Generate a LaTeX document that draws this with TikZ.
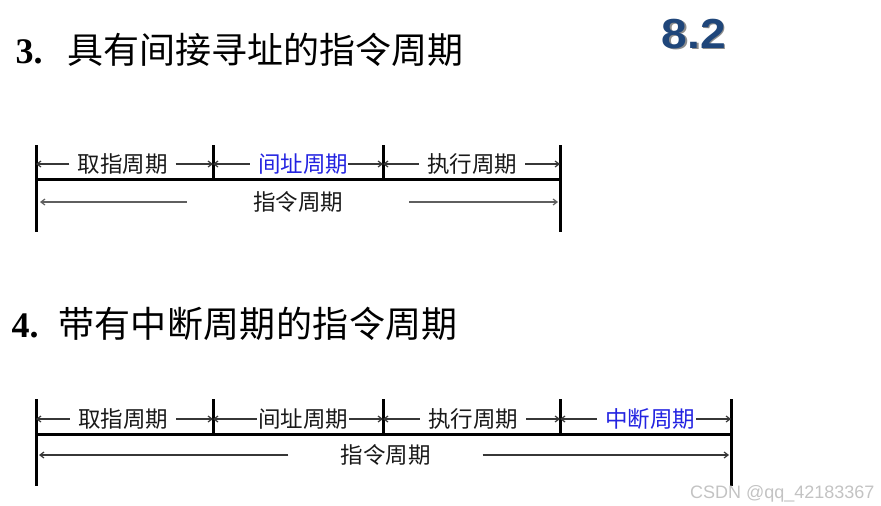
\documentclass[tikz,border=0pt]{standalone}
\usepackage{fontspec}
\setmainfont{Liberation Serif}
\newfontfamily\cjk{Noto Sans CJK SC}
\newfontfamily\cjkwide[LetterSpace=1]{Noto Sans CJK SC}
\newfontfamily\numfont{Liberation Sans}
\definecolor{ink}{RGB}{25,25,25}
\definecolor{linkblue}{RGB}{35,35,225}
\definecolor{secnavy}{RGB}{31,70,122}
\definecolor{markgray}{RGB}{195,195,195}
\definecolor{dimgray}{RGB}{55,55,55}
\definecolor{totalgray}{RGB}{95,95,95}
\usepackage{tikz}
\usetikzlibrary{arrows.meta}

\begin{document}
\begin{tikzpicture}[x=1pt, y=-1pt,
  >={Straight Barb[length=4pt, width=6pt]},
  tick/.style={
    line width=3pt, black,
  },
  baseline/.style={
    line width=3pt, black,
  },
  span/.style={
    font=\cjk\fontsize{22.5}{24}\selectfont, text=ink,
    inner xsep=0pt, inner ysep=0pt,
  },
  spanarr/.style={
    ->, line width=1.2pt, color=dimgray, shorten <=8pt,
  },
  totalarr/.style={
    ->, line width=1.2pt, color=totalgray,
  },
  heading/.style={
    anchor=base west, text=black,
  },
]
\useasboundingbox (0,0) rectangle (881,506);

% --- Headings ---
\node[heading, font=\bfseries\fontsize{36}{36}\selectfont] (h3num) at (12,63) {3.};
\node[heading, font=\cjk\fontsize{36}{36}\selectfont, inner xsep=0pt] (h3) at (67,63) {具有间接寻址的指令周期};
\node[heading, font=\bfseries\fontsize{36}{36}\selectfont] (h4num) at (8,337) {4.};
\node[heading, font=\cjkwide\fontsize{36}{36}\selectfont, inner xsep=0pt] (h4) at (58,337) {带有中断周期的指令周期};

% --- Section mark ---
\node[font=\numfont\bfseries\fontsize{42}{42}\selectfont, text=black!45, xscale=1.1] (secshadow) at (695.5,35.5) {8.2};
\node[font=\numfont\bfseries\fontsize{42}{42}\selectfont, text=secnavy, xscale=1.1] (sec) at (694,34) {8.2};

% --- Cycle with indirect addressing ---
\coordinate (a0) at (36,145);
\coordinate (a1) at (213,145);
\coordinate (a2) at (383,145);
\coordinate (a3) at (560,145);
\coordinate (a0b) at (36,232);
\coordinate (a3b) at (560,232);
\coordinate (a1b) at (213,179);
\coordinate (a2b) at (383,179);
\coordinate (al) at (36,179);
\coordinate (ar) at (560,179);
\draw[tick] (a0) -- (a0b);
\draw[tick] (a3) -- (a3b);
\draw[tick] (a1) -- (a1b);
\draw[tick] (a2) -- (a2b);
\draw[baseline] (al) -- (ar);

\node[span] (af) at (122.5,164) {取指周期};
\node[span, text=linkblue] (ai) at (303,164) {间址周期};
\node[span] (ae) at (472,164) {执行周期};
\node[span, inner xsep=66pt] (atot) at (298,202) {指令周期};

\draw[spanarr] (af.west) -- (a0 |- af.west);
\draw[spanarr] (af.east) -- (a1 |- af.east);
\draw[spanarr] (ai.west) -- (a1 |- ai.west);
\draw[spanarr, shorten <=0pt] (ai.east) -- (a2 |- ai.east);
\draw[spanarr] (ae.west) -- (a2 |- ae.west);
\draw[spanarr] (ae.east) -- (a3 |- ae.east);
\draw[totalarr] (atot.west) -- ([xshift=4pt]a0 |- atot.west);
\draw[totalarr] (atot.east) -- ([xshift=-2pt]a3 |- atot.east);

% --- Cycle with interrupt ---
\coordinate (b0) at (36,399);
\coordinate (b1) at (213,399);
\coordinate (b2) at (383,399);
\coordinate (b3) at (560,399);
\coordinate (b4) at (731,399);
\coordinate (b0b) at (36,486);
\coordinate (b4b) at (731,486);
\coordinate (b1b) at (213,434);
\coordinate (b2b) at (383,434);
\coordinate (b3b) at (560,434);
\coordinate (bl) at (36,434);
\coordinate (br) at (731,434);
\draw[tick] (b0) -- (b0b);
\draw[tick] (b4) -- (b4b);
\draw[tick] (b1) -- (b1b);
\draw[tick] (b2) -- (b2b);
\draw[tick] (b3) -- (b3b);
\draw[baseline] (bl) -- (br);

\node[span] (bf) at (123,419) {取指周期};
\node[span] (bi) at (303,419) {间址周期};
\node[span] (be) at (473,419) {执行周期};
\node[span, text=linkblue] (bn) at (650,419) {中断周期};
\node[span, inner xsep=52pt] (btot) at (385.5,455) {指令周期};

\draw[spanarr] (bf.west) -- (b0 |- bf.west);
\draw[spanarr] (bf.east) -- (b1 |- bf.east);
\draw[spanarr, shorten <=1pt] (bi.west) -- (b1 |- bi.west);
\draw[spanarr, shorten <=1pt] (bi.east) -- (b2 |- bi.east);
\draw[spanarr] (be.west) -- (b2 |- be.west);
\draw[spanarr] (be.east) -- (b3 |- be.east);
\draw[spanarr] (bn.west) -- (b3 |- bn.west);
\draw[spanarr, shorten <=1pt] (bn.east) -- (b4 |- bn.east);
\draw[totalarr, color=dimgray] (btot.west) -- ([xshift=3pt]b0 |- btot.west);
\draw[totalarr, color=dimgray] (btot.east) -- ([xshift=-2pt]b4 |- btot.east);

% --- Watermark ---
\node[anchor=base east, font=\numfont\fontsize{18}{18}\selectfont, text=markgray] (wm) at (878,498) {CSDN @qq\_42183367};

\end{tikzpicture}
\end{document}
